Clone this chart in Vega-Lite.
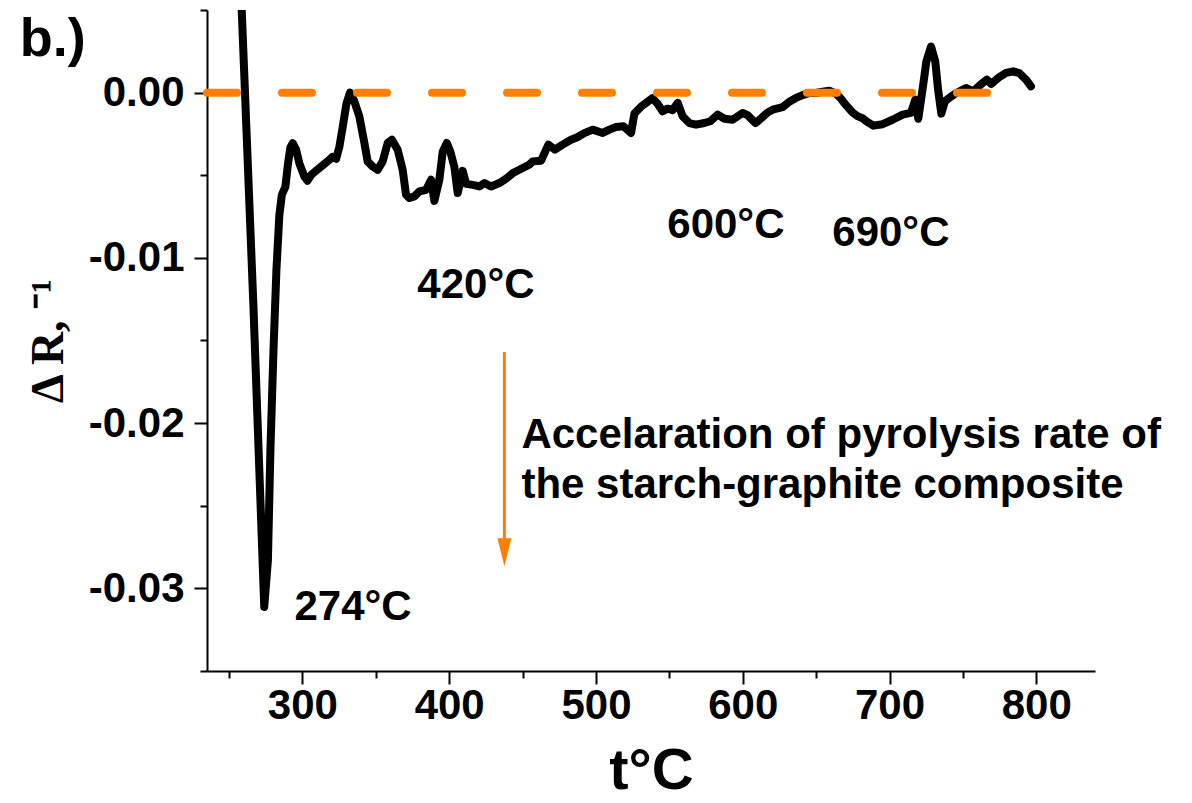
{
  "$schema": "https://vega.github.io/schema/vega-lite/v6.json",
  "width": 888,
  "height": 661,
  "autosize": {"type": "none"},
  "padding": {"left": 207, "top": 10, "right": 97, "bottom": 132},
  "background": "white",
  "config": {
    "view": {"stroke": null},
    "axis": {
      "grid": false,
      "domainColor": "black",
      "domainWidth": 2,
      "tickColor": "black",
      "tickWidth": 2,
      "labelFont": "Liberation Sans",
      "labelFontWeight": "bold",
      "labelFontSize": 42,
      "labelColor": "black",
      "titleColor": "black",
      "labelOverlap": false,
      "labelFlush": false
    }
  },
  "datasets": {
    "curve": [
      {"t": 258.3, "dr": 0.0058},
      {"t": 266.6, "dr": -0.01285},
      {"t": 274.0, "dr": -0.03112},
      {"t": 276.5, "dr": -0.0283},
      {"t": 278.2, "dr": -0.02164},
      {"t": 280.3, "dr": -0.01558},
      {"t": 282.3, "dr": -0.01073},
      {"t": 284.3, "dr": -0.0074},
      {"t": 286.0, "dr": -0.00618},
      {"t": 288.4, "dr": -0.0057},
      {"t": 290.1, "dr": -0.00436},
      {"t": 291.8, "dr": -0.00333},
      {"t": 293.4, "dr": -0.00306},
      {"t": 295.7, "dr": -0.00345},
      {"t": 298.0, "dr": -0.0043},
      {"t": 301.4, "dr": -0.00509},
      {"t": 303.4, "dr": -0.00533},
      {"t": 306.1, "dr": -0.00497},
      {"t": 309.3, "dr": -0.00473},
      {"t": 313.6, "dr": -0.00442},
      {"t": 318.4, "dr": -0.00406},
      {"t": 320.6, "dr": -0.00388},
      {"t": 323.0, "dr": -0.004},
      {"t": 325.2, "dr": -0.00327},
      {"t": 327.5, "dr": -0.00206},
      {"t": 330.0, "dr": -0.00067},
      {"t": 332.4, "dr": 0.0},
      {"t": 335.4, "dr": -0.00053},
      {"t": 338.8, "dr": -0.00145},
      {"t": 342.2, "dr": -0.00303},
      {"t": 344.5, "dr": -0.00418},
      {"t": 347.9, "dr": -0.00447},
      {"t": 351.3, "dr": -0.00467},
      {"t": 354.7, "dr": -0.00416},
      {"t": 358.1, "dr": -0.00305},
      {"t": 361.0, "dr": -0.00285},
      {"t": 364.9, "dr": -0.00345},
      {"t": 368.3, "dr": -0.00467},
      {"t": 370.6, "dr": -0.00618},
      {"t": 372.9, "dr": -0.00638},
      {"t": 376.3, "dr": -0.00628},
      {"t": 379.7, "dr": -0.00598},
      {"t": 384.3, "dr": -0.00588},
      {"t": 387.7, "dr": -0.00527},
      {"t": 389.9, "dr": -0.00655},
      {"t": 393.3, "dr": -0.00527},
      {"t": 395.6, "dr": -0.00358},
      {"t": 398.4, "dr": -0.00305},
      {"t": 400.8, "dr": -0.00358},
      {"t": 403.5, "dr": -0.00448},
      {"t": 405.8, "dr": -0.00608},
      {"t": 409.2, "dr": -0.00473},
      {"t": 411.5, "dr": -0.00552},
      {"t": 416.0, "dr": -0.00558},
      {"t": 420.6, "dr": -0.00568},
      {"t": 424.0, "dr": -0.00547},
      {"t": 428.5, "dr": -0.00568},
      {"t": 434.2, "dr": -0.00547},
      {"t": 438.8, "dr": -0.00521},
      {"t": 443.3, "dr": -0.00487},
      {"t": 447.8, "dr": -0.00467},
      {"t": 450.1, "dr": -0.00456},
      {"t": 454.6, "dr": -0.00436},
      {"t": 456.9, "dr": -0.00416},
      {"t": 462.6, "dr": -0.00412},
      {"t": 467.6, "dr": -0.00315},
      {"t": 472.0, "dr": -0.00345},
      {"t": 477.3, "dr": -0.00315},
      {"t": 483.0, "dr": -0.00285},
      {"t": 487.3, "dr": -0.0027},
      {"t": 492.1, "dr": -0.00245},
      {"t": 497.8, "dr": -0.00224},
      {"t": 504.6, "dr": -0.00244},
      {"t": 509.1, "dr": -0.00224},
      {"t": 513.7, "dr": -0.00208},
      {"t": 518.7, "dr": -0.00204},
      {"t": 523.9, "dr": -0.00244},
      {"t": 526.2, "dr": -0.00127},
      {"t": 530.7, "dr": -0.00085},
      {"t": 535.2, "dr": -0.00055},
      {"t": 538.4, "dr": -0.00033},
      {"t": 542.0, "dr": -0.00067},
      {"t": 545.4, "dr": -0.00113},
      {"t": 548.8, "dr": -0.00097},
      {"t": 552.2, "dr": -0.00106},
      {"t": 555.7, "dr": -0.00062},
      {"t": 559.1, "dr": -0.00144},
      {"t": 563.6, "dr": -0.00184},
      {"t": 568.2, "dr": -0.00194},
      {"t": 573.8, "dr": -0.00184},
      {"t": 577.9, "dr": -0.00173},
      {"t": 582.9, "dr": -0.00133},
      {"t": 587.5, "dr": -0.00158},
      {"t": 593.1, "dr": -0.00164},
      {"t": 599.9, "dr": -0.00123},
      {"t": 603.3, "dr": -0.00136},
      {"t": 608.6, "dr": -0.00184},
      {"t": 613.0, "dr": -0.00152},
      {"t": 616.8, "dr": -0.00121},
      {"t": 620.4, "dr": -0.00103},
      {"t": 627.2, "dr": -0.00088},
      {"t": 631.7, "dr": -0.00055},
      {"t": 636.3, "dr": -0.00032},
      {"t": 640.8, "dr": -0.00015},
      {"t": 645.4, "dr": -0.00002},
      {"t": 649.9, "dr": -0.00002},
      {"t": 654.4, "dr": 0.00006},
      {"t": 659.0, "dr": 0.00011},
      {"t": 663.6, "dr": -0.00006},
      {"t": 666.5, "dr": -0.00033},
      {"t": 670.4, "dr": -0.00076},
      {"t": 674.9, "dr": -0.00121},
      {"t": 678.1, "dr": -0.00142},
      {"t": 681.7, "dr": -0.00155},
      {"t": 684.3, "dr": -0.00174},
      {"t": 689.0, "dr": -0.002},
      {"t": 695.3, "dr": -0.00191},
      {"t": 702.1, "dr": -0.00164},
      {"t": 709.0, "dr": -0.00133},
      {"t": 714.6, "dr": -0.00123},
      {"t": 717.6, "dr": -0.00042},
      {"t": 719.6, "dr": -0.00158},
      {"t": 722.5, "dr": 0.00018},
      {"t": 725.1, "dr": 0.00188},
      {"t": 728.3, "dr": 0.00279},
      {"t": 731.2, "dr": 0.00188},
      {"t": 733.1, "dr": 0.00018},
      {"t": 735.3, "dr": -0.00127},
      {"t": 737.7, "dr": -0.00053},
      {"t": 741.4, "dr": -0.00027},
      {"t": 745.5, "dr": -0.00002},
      {"t": 752.1, "dr": 0.00028},
      {"t": 757.1, "dr": 0.00008},
      {"t": 762.9, "dr": 0.00055},
      {"t": 766.3, "dr": 0.00079},
      {"t": 769.3, "dr": 0.00052},
      {"t": 774.8, "dr": 0.00094},
      {"t": 779.4, "dr": 0.00119},
      {"t": 784.3, "dr": 0.00129},
      {"t": 788.4, "dr": 0.00118},
      {"t": 793.0, "dr": 0.00079},
      {"t": 796.4, "dr": 0.00038}
    ],
    "zero": [
      {"t": 235, "dr": 0},
      {"t": 768.7, "dr": 0}
    ],
    "arrow": [
      {"t": 437.6, "top": -0.0157, "bottom": -0.0278, "head": -0.02782}
    ],
    "notes": [
      {"t": 294.6, "dr": -0.03194, "label": "274°C"},
      {"t": 378.3, "dr": -0.01242, "label": "420°C"},
      {"t": 548.6, "dr": -0.00879, "label": "600°C"},
      {"t": 661.0, "dr": -0.00927, "label": "690°C"},
      {"t": 449.2, "dr": -0.02152, "label": "Accelaration of pyrolysis rate of"},
      {"t": 449.2, "dr": -0.02455, "label": "the starch-graphite composite"}
    ],
    "panel": [
      {"t": 107.5, "dr": 0.0022, "label": "b.)"}
    ]
  },
  "encoding": {
    "x": {
      "field": "t",
      "type": "quantitative",
      "scale": {"domain": [235, 840], "nice": false, "zero": false},
      "axis": {
        "values": [250, 300, 350, 400, 450, 500, 550, 600, 650, 700, 750, 800],
        "labelExpr": "datum.value % 100 === 0 ? datum.label : ''",
        "tickSize": {"condition": {"test": "datum.value % 100 === 0", "value": 13}, "value": 7},
        "labelPadding": 1,
        "title": "t°C",
        "titleFont": "Liberation Sans",
        "titleFontSize": 58,
        "titleFontWeight": "bold",
        "titlePadding": 16
      }
    },
    "y": {
      "field": "dr",
      "type": "quantitative",
      "scale": {"domain": [-0.035, 0.005], "nice": false, "zero": false},
      "axis": {
        "values": [0.005, 0, -0.005, -0.01, -0.015, -0.02, -0.025, -0.03, -0.035],
        "labelExpr": "abs(round(datum.value * 1000)) % 10 === 0 ? (datum.value < -0.0001 ? '-' : '') + format(abs(datum.value), '.2f') : ''",
        "tickSize": {"condition": {"test": "abs(round(datum.value * 1000)) % 10 === 0", "value": 13}, "value": 7},
        "labelPadding": 10,
        "title": "Δ R, ⁻¹",
        "titleFont": "Liberation Serif",
        "titleFontSize": 46,
        "titleFontWeight": "bold",
        "titlePadding": 16
      }
    }
  },
  "layer": [
    {
      "data": {"name": "curve"},
      "mark": {"type": "line", "color": "black", "strokeWidth": 8, "strokeJoin": "round", "strokeCap": "round", "clip": true}
    },
    {
      "data": {"name": "zero"},
      "mark": {"type": "line", "color": "#ff8000", "strokeWidth": 8, "strokeDash": [30, 45], "strokeCap": "round"}
    },
    {
      "data": {"name": "arrow"},
      "mark": {"type": "rule", "color": "#ff8000", "strokeWidth": 3},
      "encoding": {
        "y": {"field": "top", "type": "quantitative"},
        "y2": {"field": "bottom"}
      }
    },
    {
      "data": {"name": "arrow"},
      "mark": {"type": "point", "shape": "M-0.5,-1L0.5,-1L0,1Z", "size": 784, "filled": true, "color": "#ff8000", "opacity": 1, "strokeWidth": 0},
      "encoding": {
        "y": {"field": "head", "type": "quantitative"}
      }
    },
    {
      "data": {"name": "notes"},
      "mark": {"type": "text", "align": "left", "baseline": "alphabetic", "font": "Liberation Sans", "fontSize": 42, "fontWeight": "bold", "color": "black"},
      "encoding": {
        "text": {"field": "label", "type": "nominal"}
      }
    },
    {
      "data": {"name": "panel"},
      "mark": {"type": "text", "align": "left", "baseline": "alphabetic", "font": "Liberation Sans", "fontSize": 54, "fontWeight": "bold", "color": "black"},
      "encoding": {
        "text": {"field": "label", "type": "nominal"}
      }
    }
  ]
}
